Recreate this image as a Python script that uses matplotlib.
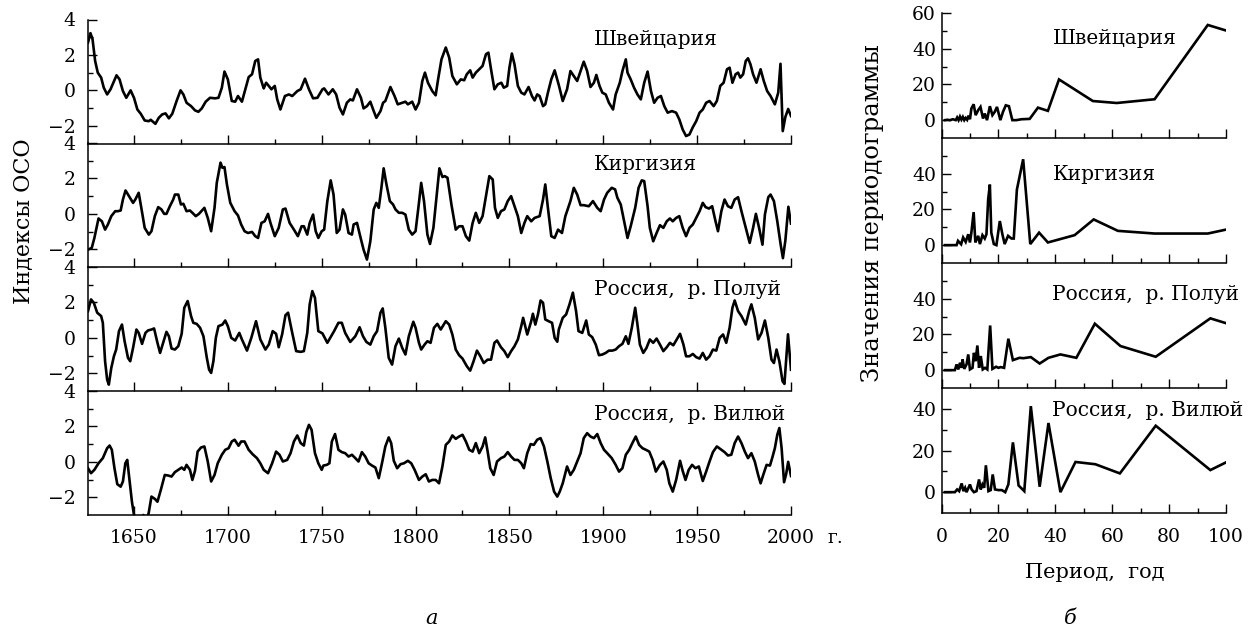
import matplotlib
matplotlib.use("Agg")
import matplotlib.pyplot as plt
from matplotlib.ticker import MultipleLocator, FixedLocator

plt.rcParams['font.family'] = ['DejaVu Serif']

# ---------------- data: OSO indices (left) ----------------
swiss_years = [1625.5, 1626.8, 1627.9, 1629.3, 1630.7, 1632.5, 1633.9, 1635.7, 1637.5, 1640.7, 1642.3, 1644.1, 1645.9, 1648.2, 1650, 1651.8, 1653.6, 1655.7, 1657.9, 1658.9, 1661.4, 1663.2, 1665, 1666.8, 1668.6, 1670.4, 1672.7, 1674.8, 1676.3, 1678, 1680.4, 1682.5, 1684.3, 1686.1, 1688.2, 1690.5, 1693.2, 1695, 1696.8, 1698.2, 1700, 1702.1, 1703.9, 1705.4, 1707.5, 1709.3, 1711.1, 1712.9, 1714.6, 1716.1, 1717.3, 1719.1, 1720.4, 1721.8, 1723.2, 1725, 1726.3, 1728, 1730.4, 1732.5, 1734.3, 1737, 1738.8, 1741.1, 1743.2, 1745.4, 1747.7, 1750.4, 1751.3, 1753.6, 1755.9, 1757.7, 1759.5, 1761.3, 1763.4, 1765.2, 1766.6, 1768.8, 1770.9, 1772.3, 1774.1, 1775.9, 1777.7, 1779.1, 1781.3, 1782.7, 1783.9, 1786.6, 1788.8, 1790.5, 1792.9, 1794.6, 1795.9, 1798.2, 1800, 1801.8, 1803.6, 1805, 1806.6, 1808.9, 1810.7, 1812, 1813.8, 1816.1, 1817.9, 1819.6, 1822, 1824.1, 1825.9, 1827.3, 1829.1, 1830.4, 1832.1, 1833.9, 1835.7, 1837.5, 1838.8, 1840.2, 1842, 1843.8, 1845.7, 1847, 1848.8, 1850, 1851.3, 1852.7, 1854.5, 1856.3, 1858, 1860.2, 1862, 1863.4, 1864.8, 1866.1, 1867.9, 1869.1, 1870.5, 1872.3, 1874.1, 1876.3, 1878.4, 1880.7, 1882.5, 1884.3, 1886.1, 1887.9, 1889.6, 1891.4, 1893.2, 1895, 1896.3, 1898, 1899.5, 1901.3, 1903, 1905.2, 1906.6, 1908.8, 1910.2, 1912, 1912.9, 1914.6, 1916.4, 1918.2, 1920, 1921.8, 1923.6, 1925.4, 1927.1, 1928.9, 1930.7, 1932.5, 1934.3, 1936.6, 1938.8, 1940.5, 1942.3, 1944.1, 1945.9, 1947.7, 1949.5, 1951.3, 1953, 1954.8, 1956.6, 1958.8, 1960.5, 1962.3, 1964.1, 1965.9, 1967.3, 1968.8, 1970.5, 1971.8, 1973, 1974.5, 1975.9, 1977.1, 1978.4, 1979.8, 1981.6, 1983.8, 1985.5, 1987.3, 1989.1, 1991.4, 1993.2, 1994.4, 1995.6, 1997, 1998.5, 2000]
swiss_vals = [2.7, 3.23, 2.9, 1.66, 1.0, 0.72, 0.15, -0.23, 0.06, 0.85, 0.62, -0.04, -0.42, 0.0, -0.42, -1.08, -1.32, -1.70, -1.74, -1.66, -1.89, -1.55, -1.36, -1.30, -1.58, -1.32, -0.60, 0.0, -0.23, -0.70, -0.89, -1.13, -1.21, -1.02, -0.64, -0.42, -0.45, -0.42, 0.15, 1.06, 0.62, -0.60, -0.64, -0.32, -0.64, 0.06, 0.75, 0.91, 1.66, 1.75, 0.72, 0.11, 0.43, 0.25, 0.06, 0.25, -0.51, -1.08, -0.32, -0.23, -0.32, -0.04, 0.06, 0.66, 0.06, -0.45, -0.42, 0.06, 0.11, -0.23, 0.06, -0.23, -0.98, -1.36, -0.70, -0.51, -0.57, 0.06, -0.42, -1.02, -0.89, -0.64, -1.17, -1.55, -1.17, -0.70, -0.60, 0.19, -0.32, -0.79, -0.70, -0.64, -0.79, -0.64, -1.08, -0.70, 0.53, 1.0, 0.43, -0.04, -0.28, 0.62, 1.75, 2.42, 1.85, 0.81, 0.34, 0.62, 0.57, 0.91, 1.13, 0.72, 1.0, 1.19, 1.38, 2.04, 2.13, 1.19, 0.06, 0.34, 0.43, 0.15, 0.25, 1.28, 2.08, 1.47, 0.25, -0.13, -0.23, 0.19, -0.32, -0.57, -0.23, -0.32, -0.89, -0.79, -0.13, 0.62, 1.13, 0.3, -0.60, 0.06, 1.09, 0.81, 0.53, 1.09, 1.62, 1.09, 0.19, 0.43, 0.87, 0.25, -0.13, -0.23, -0.70, -1.08, -0.23, 0.43, 1.09, 1.75, 1.0, 0.62, 0.15, -0.23, -0.51, 0.43, 1.06, -0.04, -0.70, -0.42, -0.32, -0.89, -1.26, -1.17, -1.26, -1.64, -2.21, -2.58, -2.49, -2.08, -1.74, -1.26, -1.08, -0.70, -0.60, -0.89, -0.60, 0.25, 0.43, 1.19, 1.28, 0.43, 0.91, 1.0, 0.72, 0.91, 1.66, 1.81, 1.47, 0.91, 0.43, 1.19, 0.53, -0.04, -0.32, -0.79, -0.13, 1.5, -2.3, -1.5, -1.05, -1.45]

kirg_years = [1625.5, 1627.5, 1628.9, 1631.1, 1632.9, 1634.6, 1636.1, 1637.9, 1640, 1641.4, 1642.9, 1644.1, 1645.5, 1647.3, 1649.5, 1650.7, 1652.5, 1653.9, 1655.7, 1657.9, 1659.3, 1661.1, 1662.9, 1664.6, 1666.1, 1667.3, 1669.1, 1670.9, 1671.8, 1673.6, 1675, 1676.3, 1678, 1679.8, 1681.1, 1682.9, 1684.6, 1687.5, 1689.3, 1691.1, 1692.9, 1694.1, 1696.1, 1697.1, 1698.2, 1699.5, 1701.3, 1703.6, 1705.4, 1707.1, 1708.9, 1710.7, 1712.9, 1714.6, 1716.1, 1717.9, 1719.6, 1721.4, 1722.7, 1725, 1727.1, 1729.3, 1730.7, 1732.9, 1735.2, 1737.3, 1739.3, 1740.5, 1742.3, 1743.6, 1745.4, 1746.8, 1748.2, 1750, 1751.3, 1753, 1754.8, 1756.3, 1758, 1759.5, 1761.3, 1762.5, 1764.3, 1766.1, 1767, 1768.8, 1770.5, 1772.3, 1774.1, 1775.9, 1777.7, 1779.1, 1780.4, 1781.8, 1783, 1784.5, 1786.3, 1788, 1789.3, 1791.1, 1792.9, 1794.6, 1796.4, 1798.2, 1800, 1801.8, 1803, 1804.5, 1806.3, 1807.7, 1809.5, 1811.3, 1812.7, 1814.3, 1815.5, 1817, 1819.1, 1821.4, 1823.2, 1825, 1826.8, 1828.6, 1830.4, 1832.1, 1833.9, 1835.7, 1837.5, 1839.3, 1841.1, 1842.3, 1843.8, 1845.5, 1847.3, 1849.1, 1850.9, 1852.7, 1854.5, 1856.3, 1858, 1859.5, 1861.6, 1863.4, 1866.1, 1867.9, 1869.1, 1870.5, 1872.3, 1874.1, 1875.9, 1878, 1879.8, 1882.5, 1884.3, 1886.1, 1887.9, 1889.6, 1892.3, 1894.5, 1896.8, 1898.6, 1900.4, 1902.1, 1904.5, 1906.3, 1907.5, 1909.3, 1911.1, 1912.9, 1914.6, 1917, 1918.8, 1920.5, 1921.8, 1923.6, 1924.8, 1926.6, 1928.4, 1930.2, 1932, 1933.8, 1935.5, 1937, 1938.8, 1940.5, 1942.3, 1944.1, 1945.9, 1947.7, 1949.5, 1951.3, 1953, 1954.5, 1956.3, 1958, 1959.8, 1961.1, 1962.9, 1964.6, 1966.4, 1968.2, 1970, 1971.8, 1973.6, 1975.9, 1978, 1979.8, 1981.3, 1983, 1984.8, 1986.1, 1987.9, 1989.1, 1990.9, 1992.7, 1994.5, 1995.7, 1997, 1998.6, 2000]
kirg_vals = [-2.02, -1.92, -1.36, -0.26, -0.42, -0.89, -0.60, -0.13, 0.15, 0.15, 0.19, 0.81, 1.32, 1.0, 0.62, 0.81, 1.19, 0.34, -0.79, -1.17, -0.98, -0.13, 0.38, 0.25, 0.0, 0.0, 0.43, 0.81, 1.09, 1.09, 0.53, 0.57, 0.15, 0.19, 0.06, -0.13, 0.0, 0.34, -0.23, -0.98, 0.34, 1.75, 2.89, 2.6, 2.64, 1.66, 0.62, 0.15, -0.09, -0.60, -0.98, -1.08, -1.02, -1.26, -1.36, -0.51, -0.42, 0.0, -0.51, -1.26, -0.79, 0.25, 0.30, -0.51, -0.89, -1.26, -0.70, -0.70, -1.17, -0.51, -0.04, -0.98, -1.36, -0.98, -0.89, 0.72, 1.89, 1.09, -1.08, -0.89, 0.25, -0.04, -1.08, -1.17, -0.60, -0.51, -1.26, -2.02, -2.58, -1.55, 0.25, 0.62, 0.34, 1.47, 2.57, 1.66, 0.72, 0.53, 0.25, 0.06, 0.06, -0.04, -0.89, -1.17, -0.98, 0.62, 1.75, 0.72, -1.17, -1.70, -0.79, 1.09, 2.57, 2.08, 2.13, 2.04, 0.53, -0.89, -0.70, -0.70, -1.26, -1.51, -0.51, 0.06, -0.51, -0.13, 1.0, 2.13, 1.94, 0.34, -0.23, 0.15, 0.25, 0.72, 1.0, 0.43, -0.13, -1.08, -0.51, -0.13, -0.42, -0.23, -0.13, 0.81, 1.66, 0.34, -1.26, -1.36, -0.89, -1.08, -0.13, 0.72, 1.47, 1.09, 0.49, 0.49, 0.43, 0.72, 0.34, 0.15, 0.81, 1.19, 1.47, 1.38, 0.91, 0.53, -0.42, -1.36, -0.70, 0.34, 1.47, 1.89, 1.85, 0.43, -0.79, -1.55, -1.08, -0.64, -0.79, -0.42, -0.26, -0.42, -0.23, -0.13, -0.79, -1.26, -0.79, -0.60, -0.23, 0.15, 0.62, 0.38, 0.30, 0.43, -0.42, -0.98, 0.15, 0.81, 0.43, 0.34, 0.81, 0.94, 0.15, -0.79, -1.64, -0.79, 0.0, -0.79, -1.74, -0.04, 0.94, 1.09, 0.72, -0.42, -1.74, -2.5, -1.5, 0.4, -0.55]

polui_years = [1625.5, 1627.1, 1628.6, 1630.4, 1632.5, 1633.4, 1634.6, 1635.7, 1636.6, 1637.9, 1639.3, 1640.5, 1642, 1643.6, 1645, 1646.8, 1648, 1649.5, 1651.3, 1652.5, 1654.3, 1656.1, 1657.5, 1659.3, 1660.7, 1662.5, 1663.9, 1665.5, 1667.3, 1668.6, 1670, 1671.8, 1673.6, 1675.4, 1676.8, 1678.6, 1680.4, 1681.6, 1683.4, 1685.2, 1687, 1688.8, 1690, 1691.1, 1692.3, 1693.6, 1695, 1697.1, 1698.6, 1700, 1701.8, 1703.9, 1706.1, 1707.5, 1710.2, 1712.5, 1715, 1717.3, 1720, 1721.8, 1723.9, 1725.7, 1727.1, 1728.9, 1730.7, 1732.1, 1734.3, 1736.4, 1738.8, 1740.5, 1742.3, 1743.6, 1745, 1746.4, 1748.2, 1750.4, 1753, 1754.5, 1756.6, 1758.9, 1760.7, 1762.5, 1765.2, 1767.9, 1770.2, 1772, 1773.8, 1775.9, 1777.7, 1779.5, 1781.3, 1782.5, 1783.9, 1785.7, 1787.5, 1789.3, 1791.1, 1792.9, 1794.6, 1796.4, 1798.8, 1800, 1801.8, 1803, 1804.8, 1806.3, 1808, 1809.8, 1811.6, 1813.4, 1816.1, 1817.9, 1819.6, 1821.4, 1823.2, 1825, 1827.3, 1829.1, 1830.9, 1832.7, 1834.5, 1836.3, 1838.4, 1840.2, 1842, 1843.4, 1845.5, 1847.3, 1849.1, 1850.9, 1852.7, 1854.5, 1856.3, 1857.3, 1859.5, 1861.6, 1862.5, 1863.8, 1865.2, 1866.6, 1867.9, 1869.1, 1870.9, 1872.7, 1874.1, 1875.5, 1876.3, 1878.4, 1880.2, 1882, 1883.8, 1885.5, 1886.8, 1888.8, 1890.9, 1892.3, 1894.1, 1896, 1897.7, 1899.5, 1901.3, 1903, 1904.8, 1906.6, 1908.4, 1910.2, 1912, 1913.4, 1915.2, 1917, 1918.2, 1919.5, 1921.3, 1923, 1924.8, 1926.6, 1928.4, 1930.2, 1932, 1933.8, 1935.5, 1937.3, 1939.1, 1940.9, 1942.7, 1944.1, 1945.9, 1947.7, 1949.5, 1951.3, 1953, 1954.8, 1956.6, 1958.4, 1960.2, 1962, 1963.8, 1965.5, 1967.3, 1968.8, 1970, 1971.8, 1973.6, 1975.9, 1977.7, 1978.9, 1980.7, 1982.5, 1984.3, 1986.1, 1987.9, 1989.6, 1990.9, 1992.3, 1993.8, 1995.5, 1996.5, 1997.4, 1998.4, 2000]
polui_vals = [1.51, 2.17, 1.98, 1.42, 1.23, 0.85, -1.32, -2.36, -2.64, -1.70, -1.04, -0.66, 0.38, 0.75, -0.19, -1.13, -1.32, -0.57, 0.47, 0.28, -0.34, 0.28, 0.42, 0.47, 0.53, -0.28, -0.85, -0.28, 0.34, 0.09, -0.60, -0.66, -0.47, 0.23, 1.70, 2.08, 1.23, 0.85, 0.79, 0.57, 0.09, -1.13, -1.79, -1.98, -1.32, 0.0, 0.66, 0.75, 0.98, 0.66, 0.0, -0.15, 0.28, -0.09, -0.72, 0.0, 0.94, -0.09, -0.66, -0.38, 0.38, 0.23, -0.53, 0.19, 1.28, 1.42, 0.28, -0.75, -0.79, -0.75, 0.28, 1.89, 2.64, 2.26, 0.38, 0.25, -0.28, 0.0, 0.38, 0.85, 0.85, 0.28, -0.23, 0.09, 0.60, 0.09, -0.23, -0.38, 0.09, 0.38, 1.42, 1.66, 0.57, -1.13, -1.51, -0.47, -0.04, -0.57, -0.94, 0.09, 0.91, 0.57, -0.28, -0.66, -0.38, -0.19, -0.28, 0.57, 0.79, 0.47, 0.94, 0.75, 0.19, -0.66, -0.98, -1.17, -1.60, -1.85, -1.32, -0.72, -1.04, -1.42, -1.23, -1.23, -0.28, -0.15, -0.53, -0.75, -1.09, -0.75, -0.47, -0.09, 0.66, 1.13, 0.19, 0.94, 1.36, 0.75, 1.32, 2.11, 1.98, 1.04, 0.94, 0.85, 0.0, -0.22, 0.47, 1.13, 1.32, 1.89, 2.55, 1.51, 0.38, 0.28, 0.98, 0.19, 0.04, -0.38, -0.98, -0.94, -0.85, -0.72, -0.72, -0.66, -0.47, -0.34, 0.09, -0.34, 0.57, 1.70, 0.75, -0.38, -0.85, -0.57, -0.09, -0.28, -0.04, -0.38, -0.75, -0.53, -0.28, -0.42, -0.09, 0.23, -0.38, -1.04, -1.04, -0.91, -1.09, -1.17, -0.85, -1.23, -1.04, -0.66, -0.72, 0.0, 0.19, -0.28, 0.57, 1.70, 2.11, 1.51, 1.23, 0.75, 1.51, 1.89, 1.13, -0.09, 0.28, 0.98, 0.0, -1.23, -1.42, -0.66, -1.32, -2.45, -2.6, -1.3, 0.2, -1.8]

vil_years = [1625.5, 1627.1, 1628.9, 1631.1, 1633.4, 1635.7, 1637, 1638.2, 1639.6, 1641.1, 1642.9, 1644.1, 1645.4, 1646.4, 1647.7, 1648.9, 1650, 1651.5, 1653.5, 1655, 1656.3, 1657.8, 1659.3, 1661.1, 1662.5, 1664.3, 1666.4, 1668.2, 1670, 1671.8, 1673.6, 1675.4, 1676.8, 1678, 1679.8, 1681.1, 1682.5, 1683.9, 1685.7, 1687.5, 1689.3, 1691.1, 1692.9, 1694.6, 1696.8, 1698.6, 1700.4, 1702.1, 1703.6, 1705.7, 1707.1, 1708.9, 1711.1, 1713.2, 1715.5, 1717.3, 1719.1, 1721.4, 1723.6, 1725.7, 1727.5, 1729.3, 1731.6, 1733.4, 1735.2, 1737, 1738.8, 1740.5, 1741.8, 1743.2, 1744.6, 1746.4, 1748.2, 1750, 1750.9, 1752.7, 1754.1, 1755.4, 1757.1, 1758.9, 1760.7, 1762.5, 1764.3, 1766.1, 1767.9, 1769.6, 1771.4, 1773.2, 1775, 1776.8, 1778.6, 1780.4, 1782.1, 1783.9, 1785.7, 1787, 1788.4, 1790.2, 1792, 1793.8, 1795.9, 1797.7, 1799.5, 1801.8, 1803.6, 1805.4, 1807.1, 1808.9, 1810.7, 1812.5, 1814.3, 1816.1, 1817.9, 1819.6, 1821.4, 1823.2, 1825, 1826.8, 1828.6, 1830.4, 1832.1, 1833.9, 1835.7, 1837.1, 1838.4, 1839.8, 1841.6, 1843.4, 1845.5, 1847.3, 1849.1, 1850.9, 1852.7, 1854.5, 1856.3, 1857.7, 1859.5, 1861.3, 1863, 1864.8, 1866.6, 1868.4, 1870.2, 1872, 1873.8, 1875.5, 1876.8, 1878.4, 1880.7, 1882.5, 1884.3, 1886.1, 1887.9, 1889.6, 1891.4, 1893.2, 1895, 1896.8, 1898.6, 1900.4, 1902.1, 1904.5, 1906.6, 1908.4, 1910.2, 1912, 1913.8, 1915.5, 1917.3, 1919.1, 1920.9, 1922.7, 1924.5, 1926.3, 1928, 1930.2, 1932, 1933.8, 1935.2, 1937, 1938.8, 1940.9, 1942.3, 1943.8, 1945.5, 1947.3, 1949.1, 1950.9, 1953, 1954.8, 1956.6, 1958.4, 1960.5, 1962.9, 1964.6, 1966.4, 1968.2, 1970, 1971.8, 1973.6, 1975.4, 1977.1, 1978.9, 1980.7, 1982.5, 1983.8, 1985.2, 1987, 1988.8, 1990.2, 1991.4, 1992.7, 1993.8, 1995, 1996.3, 1997.4, 1998.5, 2000]
vil_vals = [-0.36, -0.64, -0.45, -0.08, 0.21, 0.77, 0.92, 0.68, -0.36, -1.26, -1.40, -1.11, -0.08, 0.11, -1.11, -2.25, -3.0, -3.7, -3.5, -3.0, -3.4, -2.9, -1.96, -2.09, -2.25, -1.58, -0.74, -0.77, -0.83, -0.58, -0.45, -0.32, -0.45, -0.17, -0.45, -1.02, -0.51, 0.58, 0.81, 0.87, 0.02, -1.11, -0.74, -0.08, 0.40, 0.68, 0.77, 1.15, 1.25, 0.91, 1.15, 1.15, 0.68, 0.43, 0.21, -0.08, -0.45, -0.64, -0.08, 0.58, 0.40, 0.02, 0.11, 0.49, 1.15, 1.49, 1.06, 0.92, 1.68, 2.09, 1.81, 0.49, -0.08, -0.45, -0.21, -0.17, -0.08, 1.15, 1.57, 0.68, 0.55, 0.49, 0.30, 0.40, 0.21, 0.02, 0.55, 0.30, -0.08, -0.21, -0.32, -0.92, -0.08, 0.87, 1.38, 1.06, 0.06, -0.36, -0.13, -0.08, 0.06, -0.08, -0.45, -1.02, -0.83, -0.70, -1.11, -1.02, -1.02, -1.21, -0.26, 0.96, 1.15, 1.49, 1.30, 1.43, 1.53, 1.15, 0.68, 0.58, 1.06, 0.49, 0.87, 1.38, 0.58, -0.36, -0.74, 0.02, 0.21, 0.30, 0.55, 0.30, 0.11, 0.11, -0.08, -0.36, 0.49, 1.0, 0.96, 1.25, 1.34, 0.87, 0.02, -0.92, -1.68, -1.96, -1.68, -1.21, -0.26, -0.74, -0.45, 0.02, 0.49, 1.34, 1.62, 1.43, 1.34, 1.57, 1.06, 0.68, 0.49, 0.21, -0.17, -0.55, -0.36, 0.40, 0.68, 1.06, 1.43, 0.96, 0.77, 0.68, 0.58, 0.11, -0.55, -0.17, 0.02, -0.45, -1.21, -1.68, -1.02, 0.06, -0.51, -1.02, -0.45, -0.17, -0.36, -0.26, -1.08, -0.55, 0.02, 0.55, 0.87, 0.68, 0.55, 0.36, 0.40, 1.06, 1.43, 1.06, 0.58, 0.21, 0.49, 0.02, -0.74, -1.21, -0.74, -0.17, -0.21, 0.30, 0.77, 1.53, 1.91, 0.77, -1.15, -0.7, 0.0, -0.8]

# ---------------- data: periodograms (right) ----------------
swiss_per = [1.2, 2, 3, 4, 5, 5.5, 6, 6.5, 7, 7.5, 8, 8.5, 9, 9.5, 10, 10.5, 11.3, 12, 12.9, 13.7, 14.6, 15.2, 16, 17, 17.9, 18.7, 19.5, 20.7, 21.6, 22.6, 23.7, 24.9, 26.3, 28.1, 31, 33.9, 37.4, 41.3, 53.2, 61.6, 74.9, 93.6, 100]
swiss_pow = [0, 0.2, 0, 0.5, 0, 1.5, 0, 2, 0.3, 1.8, 0, 1.2, 0.2, 2.5, 0.5, 6.5, 8.9, 2.8, 5.6, 7.4, 0.9, 3.7, 0, 7.8, 2.8, 4.6, 7.4, 0, 4.6, 8.3, 7.8, 0, 0, 0.5, 0.7, 7.0, 5.2, 22.8, 10.7, 9.6, 11.7, 53.3, 50.2]

kirg_per = [1.2, 5.3, 5.8, 6.9, 7.6, 8.5, 9.4, 10, 10.5, 11.3, 11.9, 12.9, 13.5, 14.4, 15.2, 15.8, 16.4, 17, 17.5, 18.4, 19.3, 20.5, 21.4, 22.2, 23.4, 24.6, 25.4, 26.5, 28.7, 31.2, 34.3, 37.4, 46.8, 53.5, 62, 74.9, 93.6, 100]
kirg_pow = [0, 0, 2.4, 0.5, 4.3, 1.8, 6.1, 1.5, 7, 18.5, 1.5, 5.2, 0.6, 5.6, 3.7, 6.1, 25.6, 33.9, 7, 0.6, 0, 13.5, 6.1, 0.6, 5.2, 3.7, 3.7, 31.1, 48.1, 0.6, 7, 1.5, 5.6, 14.4, 8.0, 6.5, 6.5, 8.7]

polui_per = [1.2, 4.7, 5.3, 5.9, 6.5, 7.1, 7.4, 8, 8.8, 9.4, 10, 10.9, 11.4, 12, 12.6, 13.2, 13.8, 14.5, 15.3, 16.1, 17.1, 17.9, 19.2, 20, 20.8, 22, 23.5, 25.1, 27.4, 28.8, 31.4, 34.5, 37.6, 41.8, 47.4, 53.9, 62.9, 75.3, 94.5, 100]
polui_pow = [0, 0, 3.2, 0.4, 4.1, 1.3, 6, 0.7, 3.2, 8.8, 0.4, 1.3, 9.7, 5, 13.8, 1.3, 7.9, 0.4, 1.3, 0.4, 25, 0.7, 1.9, 1.3, 1.7, 1.3, 17.6, 5.6, 6.9, 6.7, 7.3, 3.7, 6.9, 8.8, 6.9, 26, 13.5, 7.5, 29, 26.3]

vil_per = [1.2, 4.7, 5.5, 6.2, 7.1, 7.7, 8.3, 8.8, 10, 10.6, 11.4, 12.3, 13.2, 13.8, 14.4, 15, 15.6, 16.5, 17.3, 18, 18.8, 20, 21.2, 22.4, 23.5, 25.1, 27.1, 29.1, 31.4, 34.5, 37.6, 41.8, 47.1, 54.1, 62.7, 75.3, 94.5, 100]
vil_pow = [0, 0, 1.3, 0.5, 4.2, 0.5, 2.1, 0, 3.7, 1.3, 0, 0.5, 6.1, 1.3, 3.7, 2.1, 12.9, 0.5, 1, 8.5, 1.3, 1, 1, 0, 3.7, 23.9, 3.2, 0.5, 41.3, 2.6, 33.2, 0, 14.5, 13.4, 9, 31.9, 10.6, 14.3]

names = ['Швейцария', 'Киргизия', 'Россия,  р. Полуй', 'Россия,  р. Вилюй']
left_series = [(swiss_years, swiss_vals), (kirg_years, kirg_vals),
               (polui_years, polui_vals), (vil_years, vil_vals)]
right_series = [(swiss_per, swiss_pow), (kirg_per, kirg_pow),
                (polui_per, polui_pow), (vil_per, vil_pow)]

W, H = 1253, 630
fig = plt.figure(figsize=(W / 100, H / 100), dpi=100)

FS = 13.5
LW = 1.9


def style(ax):
    ax.set_facecolor('none')
    for s in ('top', 'right'):
        ax.spines[s].set_visible(False)
    for s in ('left', 'bottom'):
        ax.spines[s].set_linewidth(1.1)
        ax.spines[s].set_zorder(5)
    ax.tick_params(which='both', direction='in', width=1.0, labelsize=FS)
    ax.tick_params(which='major', length=6.5)
    ax.tick_params(which='minor', length=3.5)


# left column
lx0, lx1 = 88, 791
ltops = [19.5, 143, 267, 391]
lh = 124
left_label_y = [2.85, 2.78, 2.74, 2.66]
for i, (yrs, vals) in enumerate(left_series):
    top = ltops[i]
    ax = fig.add_axes([lx0 / W, 1 - (top + lh) / H, (lx1 - lx0) / W, lh / H])
    ax.plot(yrs, vals, color='black', lw=LW, solid_joinstyle='round')
    ax.set_xlim(1625.5, 2000)
    ax.set_ylim(-3, 4)
    ax.set_yticks([-2, 0, 2, 4])
    ax.yaxis.set_minor_locator(FixedLocator([-1, 1, 3]))
    ax.set_xticks([1650, 1700, 1750, 1800, 1850, 1900, 1950, 2000])
    ax.xaxis.set_minor_locator(MultipleLocator(25))
    style(ax)
    ax.tick_params(axis='y', which='major', pad=9)
    ax.tick_params(axis='x', which='major', pad=10)
    if i < 3:
        ax.tick_params(axis='x', labelbottom=False)
    ax.text(1895, left_label_y[i], names[i], fontsize=14.5, va='center', ha='left')

# right column
rx0, rx1 = 941.5, 1226
rtops = [13, 138, 263, 388]
rh = 125
r_ylims = [(-10, 60), (-10, 60), (-10, 60), (-10, 50)]
r_major = [[0, 20, 40, 60], [0, 20, 40], [0, 20, 40], [0, 20, 40]]
r_minor = [[10, 30, 50], [10, 30, 50], [10, 30, 50], [10, 30]]
right_label_y = [45.5, 39.4, 42.3, 39]
for i, (per, pw) in enumerate(right_series):
    top = rtops[i]
    ax = fig.add_axes([rx0 / W, 1 - (top + rh) / H, (rx1 - rx0) / W, rh / H])
    ax.plot(per, pw, color='black', lw=LW, solid_joinstyle='miter')
    ax.set_xlim(0, 100)
    ax.set_ylim(*r_ylims[i])
    ax.set_yticks(r_major[i])
    ax.yaxis.set_minor_locator(FixedLocator(r_minor[i]))
    ax.set_xticks([0, 20, 40, 60, 80, 100])
    ax.xaxis.set_minor_locator(MultipleLocator(10))
    style(ax)
    ax.tick_params(axis='y', which='major', pad=4)
    ax.tick_params(axis='x', which='major', pad=11)
    if i < 3:
        ax.tick_params(axis='x', labelbottom=False)
    ax.text(39, right_label_y[i], names[i], fontsize=14.5, va='center', ha='left')

fig.text(23 / W, 1 - 221 / H, 'Индексы ОСО', rotation=90, ha='center', va='center', fontsize=16)
fig.text(873 / W, 1 - 213 / H, 'Значения периодограммы', rotation=90, ha='center', va='center', fontsize=17.5)
fig.text(835 / W, 1 - 538 / H, 'г.', ha='center', va='center', fontsize=FS)
fig.text(1095 / W, 1 - 573 / H, 'Период,  год', ha='center', va='center', fontsize=15)
fig.text(432 / W, 1 - 618 / H, 'а', ha='center', va='center', fontsize=15, style='italic')
fig.text(1070 / W, 1 - 618 / H, 'б', ha='center', va='center', fontsize=15, style='italic')

fig.savefig('out.png', dpi=100)
